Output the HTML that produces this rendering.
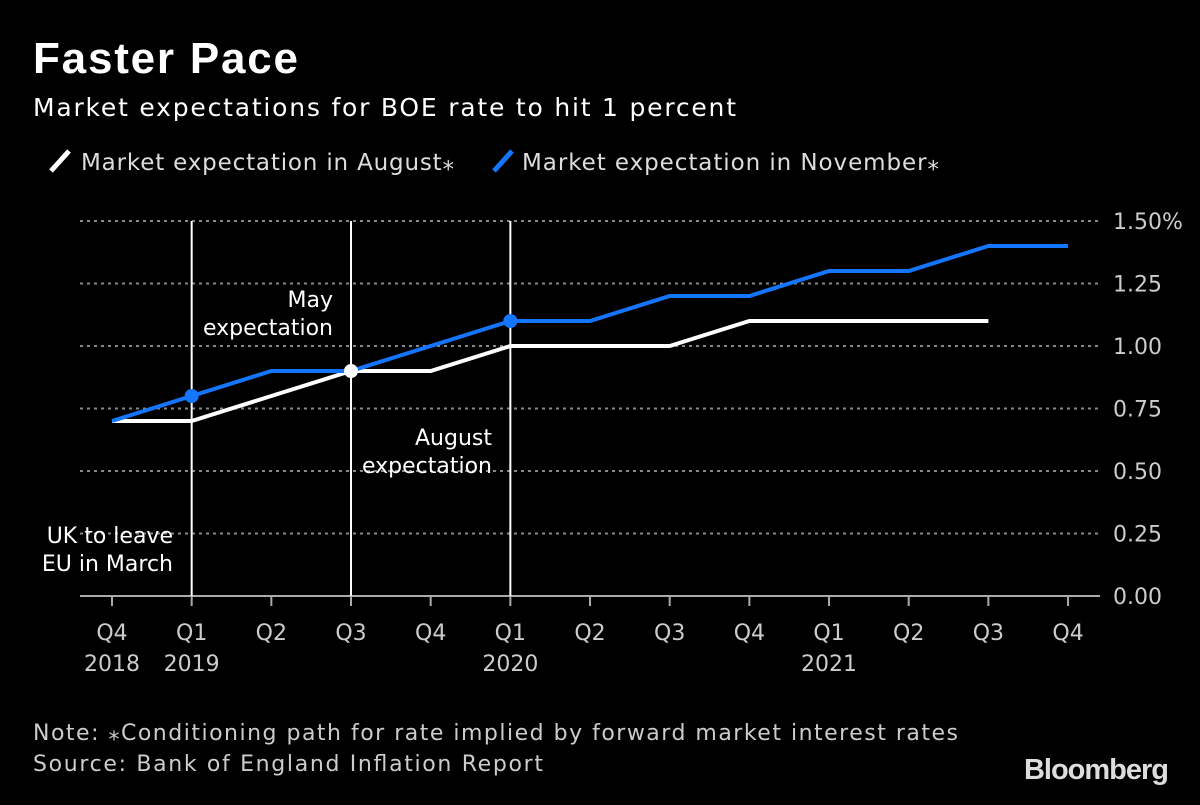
<!DOCTYPE html>
<html><head><meta charset="utf-8"><style>
html,body{margin:0;padding:0;background:#000;}
svg text{font-family:"DejaVu Sans","Liberation Sans",sans-serif;}
</style></head><body>
<svg id="chart" width="1200" height="800" xmlns="http://www.w3.org/2000/svg">
<rect width="1200" height="800" fill="#000"/>
<text x="33" y="73" fill="#fff" font-size="44" font-weight="bold" textLength="265" style="font-family:'Liberation Sans',sans-serif">Faster Pace</text>
<text x="33" y="116" fill="#fff" font-size="25" textLength="703">Market expectations for BOE rate to hit 1 percent</text>
<g>
<line x1="51" y1="171" x2="69" y2="151" stroke="#fff" stroke-width="5"/>
<text x="81" y="170" fill="#ddd" font-size="23" textLength="373">Market expectation in August⁎</text>
<line x1="494" y1="171" x2="512" y2="151" stroke="#1476ff" stroke-width="5"/>
<text x="522" y="170" fill="#ddd" font-size="23" textLength="417">Market expectation in November⁎</text>
</g>
<g id="grid"></g><g id="marks"></g>
<text x="333" y="307" fill="#fff" font-size="22" text-anchor="end">May</text>
<text x="333" y="335" fill="#fff" font-size="22" text-anchor="end">expectation</text>
<text x="492" y="445" fill="#fff" font-size="22" text-anchor="end">August</text>
<text x="492" y="473" fill="#fff" font-size="22" text-anchor="end">expectation</text>
<text x="173" y="543" fill="#fff" font-size="22" text-anchor="end">UK to leave</text>
<text x="173" y="571" fill="#fff" font-size="22" text-anchor="end">EU in March</text>
<text x="33" y="740" fill="#ccc" font-size="22" textLength="925">Note: ⁎Conditioning path for rate implied by forward market interest rates</text>
<text x="33" y="771" fill="#ccc" font-size="22" textLength="510">Source: Bank of England Inflation Report</text>
<text x="1168" y="779" fill="#ddd" font-size="29" font-weight="bold" text-anchor="end" style="font-family:'Liberation Sans',sans-serif;letter-spacing:-1px">Bloomberg</text>
</svg>
<script>
const quarters=["Q4","Q1","Q2","Q3","Q4","Q1","Q2","Q3","Q4","Q1","Q2","Q3","Q4"];
const years=["2018","2019","","","","2020","","","","2021","","",""];
const august=[0.7,0.7,0.8,0.9,0.9,1.0,1.0,1.0,1.1,1.1,1.1,1.1];
const november=[0.7,0.8,0.9,0.9,1.0,1.1,1.1,1.2,1.2,1.3,1.3,1.4,1.4];
const yTicks=[0,0.25,0.5,0.75,1.0,1.25,1.5];
const yTickLabels=["0.00","0.25","0.50","0.75","1.00","1.25","1.50%"];
const vlines=[1,3,5];
const blueDots=[1,5];
const whiteDots=[3];
const NS="http://www.w3.org/2000/svg";
const x=i=>112+i*79.67;
const y=v=>596-v*250;
function mk(tag,attrs,parent){const e=document.createElementNS(NS,tag);for(const k in attrs)e.setAttribute(k,attrs[k]);parent.appendChild(e);return e;}
const grid=document.getElementById('grid'),marks=document.getElementById('marks');
yTicks.forEach((v,i)=>{
 if(v>0){const l=mk('line',{x1:80,x2:1100,y1:y(v),y2:y(v),stroke:'#888','stroke-width':2,'stroke-dasharray':'3,4'},grid);
 
 }
 const t=mk('text',{x:1113,y:y(v)+8,fill:'#ccc','font-size':22},grid);t.textContent=yTickLabels[i];
 
 
});
const ax=mk('line',{x1:80,x2:1100,y1:596,y2:596,stroke:'#aaa','stroke-width':2},grid);


quarters.forEach((q,i)=>{
 const tk=mk('line',{x1:x(i),x2:x(i),y1:596,y2:606,stroke:'#aaa','stroke-width':2},grid);
 
 
 const t=mk('text',{x:x(i),y:640,fill:'#ccc','font-size':22,'text-anchor':'middle'},grid);t.textContent=q;
 
 
 if(years[i]){const t2=mk('text',{x:x(i),y:671,fill:'#ccc','font-size':22,'text-anchor':'middle'},grid);t2.textContent=years[i];
 
 }
});
vlines.forEach(i=>{const l=mk('line',{x1:x(i),x2:x(i),y1:y(1.5),y2:596,stroke:'#fff','stroke-width':2},grid);
 
 });
const pa=mk('polyline',{points:august.map((v,i)=>x(i)+','+y(v)).join(' '),fill:'none',stroke:'#fff','stroke-width':4},marks);


const pn=mk('polyline',{points:november.map((v,i)=>x(i)+','+y(v)).join(' '),fill:'none',stroke:'#1476ff','stroke-width':4},marks);


blueDots.forEach(i=>{const c=mk('circle',{cx:x(i),cy:y(november[i]),r:7,fill:'#1476ff'},marks);
 
 });
whiteDots.forEach(i=>{const c=mk('circle',{cx:x(i),cy:y(august[i]),r:7,fill:'#fff'},marks);
 
 });
</script>
</body></html>
